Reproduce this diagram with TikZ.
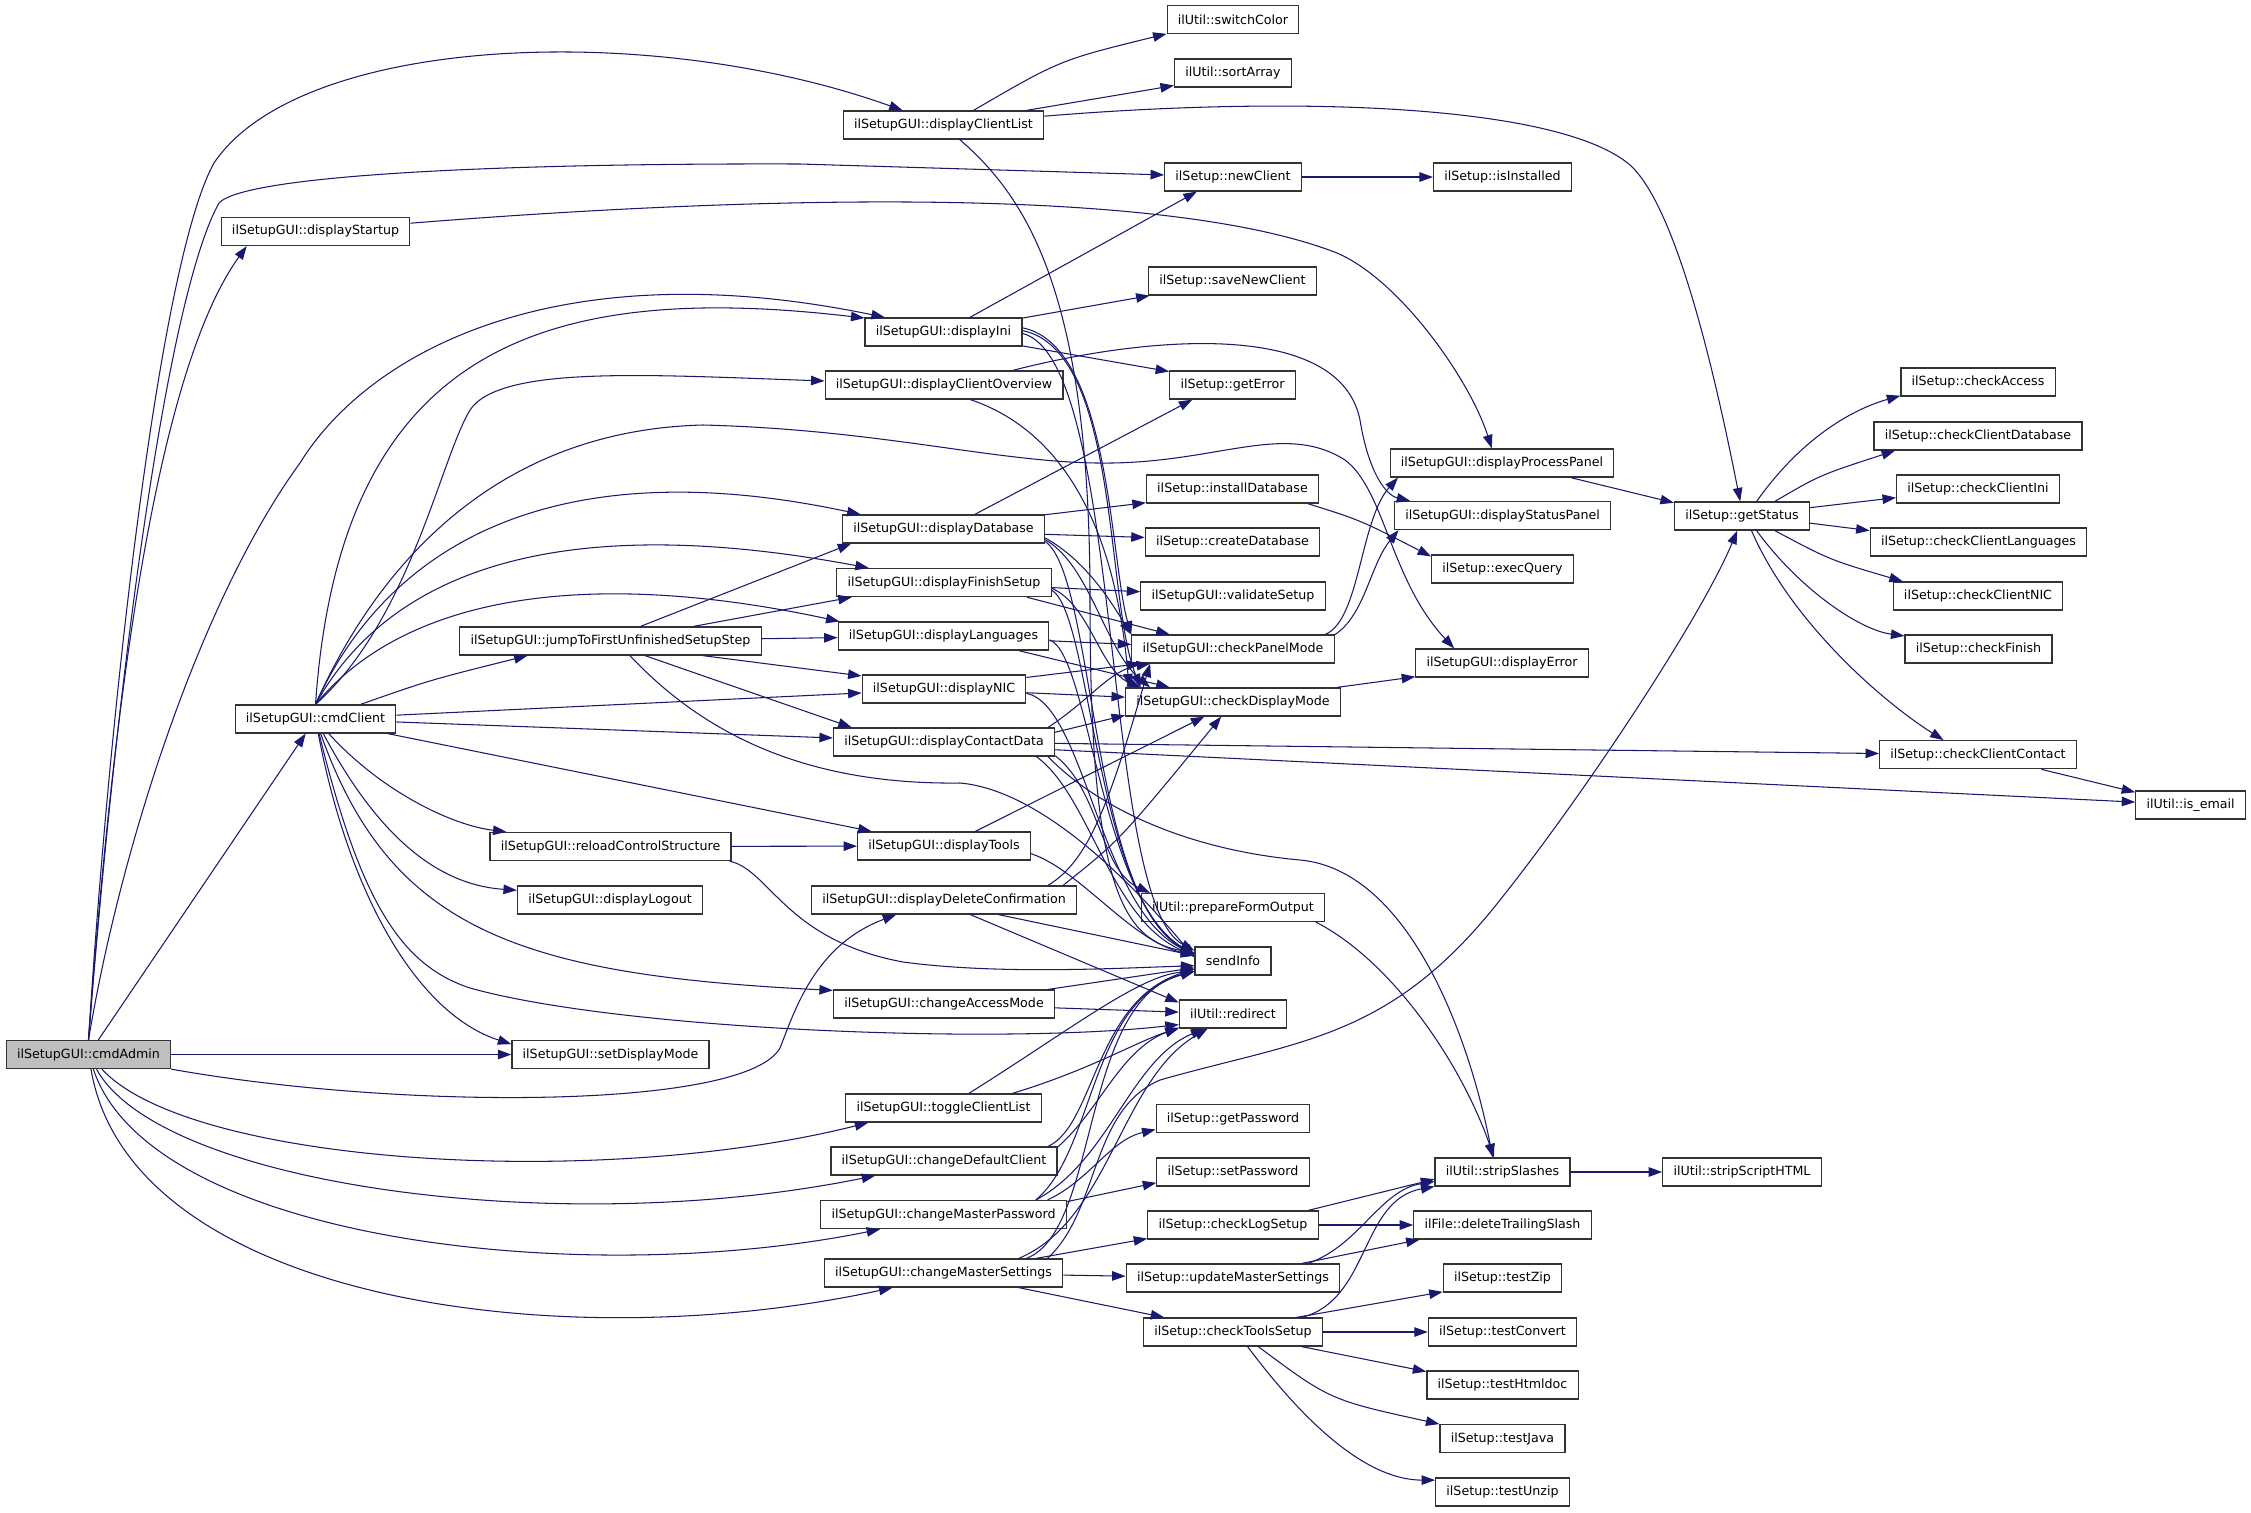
\documentclass[tikz,border=0pt]{standalone}
\usepackage{fontspec}
\setmainfont{DejaVu Sans}
\usetikzlibrary{arrows.meta}
\definecolor{edgeblue}{HTML}{191970}
\definecolor{rootgray}{HTML}{BFBFBF}
\definecolor{boxframe}{HTML}{333333}

\begin{document}
\begin{tikzpicture}[
    x=0.02cm, y=-0.02cm,
    every node/.style={font=\fontsize{7.2}{8.6}\selectfont},
    fn/.style={
        rectangle,
        draw=boxframe,
        fill=white,
        line width=0.7pt,
        minimum height=0.56cm,
        inner xsep=0.215cm,
        inner ysep=0pt
    },
    root/.style={fn, fill=rootgray},
    call/.style={-{Triangle[length=0.27cm,width=0.19cm]}, draw=edgeblue, line width=0.6pt}
]
    % canvas
    \fill[white] (0,0) rectangle (2251,1512);
    \useasboundingbox (0,0) rectangle (2251,1512);

    % === CALLERS ===
    \node[root] (cmdAdmin) at (88.5,1054.5) {ilSetupGUI::cmdAdmin};
    \node[fn] (dispStartup) at (315.5,231.5) {ilSetupGUI::displayStartup};
    \node[fn] (cmdClient) at (315.5,719) {ilSetupGUI::cmdClient};
    \node[fn] (jumpStep) at (610.5,641) {ilSetupGUI::jumpToFirstUnfinishedSetupStep};
    \node[fn] (reloadCS) at (610.5,846.5) {ilSetupGUI::reloadControlStructure};
    \node[fn] (dispLogout) at (610,900) {ilSetupGUI::displayLogout};
    \node[fn] (setDispMode) at (610.5,1054.5) {ilSetupGUI::setDisplayMode};

    % === GUI column ===
    \node[fn] (dispClientList) at (943.5,125) {ilSetupGUI::displayClientList};
    \node[fn] (dispIni) at (943.5,332) {ilSetupGUI::displayIni};
    \node[fn] (dispClientOv) at (944,385) {ilSetupGUI::displayClientOverview};
    \node[fn] (dispDatabase) at (943.5,529) {ilSetupGUI::displayDatabase};
    \node[fn] (dispFinish) at (944,582.6) {ilSetupGUI::displayFinishSetup};
    \node[fn] (dispLang) at (943.5,636) {ilSetupGUI::displayLanguages};
    \node[fn] (dispNIC) at (944,689) {ilSetupGUI::displayNIC};
    \node[fn] (dispContact) at (944,742) {ilSetupGUI::displayContactData};
    \node[fn] (dispTools) at (944,846) {ilSetupGUI::displayTools};
    \node[fn] (dispDelConf) at (944,900) {ilSetupGUI::displayDeleteConfirmation};
    \node[fn] (chgAccess) at (944,1004) {ilSetupGUI::changeAccessMode};
    \node[fn] (toggleCL) at (943.5,1108) {ilSetupGUI::toggleClientList};
    \node[fn] (chgDefault) at (944,1161) {ilSetupGUI::changeDefaultClient};
    \node[fn] (chgMPass) at (943.5,1214.6) {ilSetupGUI::changeMasterPassword};
    \node[fn] (chgMSet) at (943.5,1273) {ilSetupGUI::changeMasterSettings};

    % === middle column ===
    \node[fn] (switchColor) at (1233,19.7) {ilUtil::switchColor};
    \node[fn] (sortArray) at (1233,73) {ilUtil::sortArray};
    \node[fn] (newClient) at (1233,177) {ilSetup::newClient};
    \node[fn] (saveNewClient) at (1232.5,281) {ilSetup::saveNewClient};
    \node[fn] (getError) at (1232.5,385) {ilSetup::getError};
    \node[fn] (installDB) at (1232.5,489) {ilSetup::installDatabase};
    \node[fn] (createDB) at (1232.5,542) {ilSetup::createDatabase};
    \node[fn] (validateSetup) at (1233,596) {ilSetupGUI::validateSetup};
    \node[fn] (checkPanel) at (1233,649) {ilSetupGUI::checkPanelMode};
    \node[fn] (checkDisplay) at (1233,702) {ilSetupGUI::checkDisplayMode};
    \node[fn] (prepForm) at (1233,907.5) {ilUtil::prepareFormOutput};
    \node[fn] (sendInfo) at (1233,961) {sendInfo};
    \node[fn] (redirect) at (1233,1014) {ilUtil::redirect};
    \node[fn] (getPassword) at (1233,1118.6) {ilSetup::getPassword};
    \node[fn] (setPassword) at (1233,1172) {ilSetup::setPassword};
    \node[fn] (checkLog) at (1233,1225) {ilSetup::checkLogSetup};
    \node[fn] (updMaster) at (1233,1278) {ilSetup::updateMasterSettings};
    \node[fn] (checkTools) at (1233,1332) {ilSetup::checkToolsSetup};

    % === right columns ===
    \node[fn] (isInstalled) at (1502.5,177) {ilSetup::isInstalled};
    \node[fn] (dispProcess) at (1502,463) {ilSetupGUI::displayProcessPanel};
    \node[fn] (dispStatus) at (1502.5,515.5) {ilSetupGUI::displayStatusPanel};
    \node[fn] (execQuery) at (1502.5,569) {ilSetup::execQuery};
    \node[fn] (dispError) at (1502,663) {ilSetupGUI::displayError};
    \node[fn] (stripSlashes) at (1502.5,1172) {ilUtil::stripSlashes};
    \node[fn] (delTrailing) at (1502.5,1225) {ilFile::deleteTrailingSlash};
    \node[fn] (testZip) at (1502.5,1278) {ilSetup::testZip};
    \node[fn] (testConvert) at (1502.5,1332) {ilSetup::testConvert};
    \node[fn] (testHtmldoc) at (1502.5,1385) {ilSetup::testHtmldoc};
    \node[fn] (testJava) at (1502.5,1438.6) {ilSetup::testJava};
    \node[fn] (testUnzip) at (1502.5,1492) {ilSetup::testUnzip};
    \node[fn] (getStatus) at (1742,516) {ilSetup::getStatus};
    \node[fn] (stripScript) at (1742,1172) {ilUtil::stripScriptHTML};
    \node[fn] (checkAccess) at (1978,382) {ilSetup::checkAccess};
    \node[fn] (checkClientDB) at (1978,436) {ilSetup::checkClientDatabase};
    \node[fn] (checkClientIni) at (1978,489) {ilSetup::checkClientIni};
    \node[fn] (checkClientLang) at (1978.5,542) {ilSetup::checkClientLanguages};
    \node[fn] (checkClientNIC) at (1978,596) {ilSetup::checkClientNIC};
    \node[fn] (checkFinish) at (1978.5,649) {ilSetup::checkFinish};
    \node[fn] (checkClientContact) at (1978,754.7) {ilSetup::checkClientContact};
    \node[fn] (isEmail) at (2190.6,805) {ilUtil::is\_email};

    % === cmdAdmin calls ===
    \draw[call] (cmdAdmin.north) .. controls (110,700) and (160,260) .. (214,163) .. controls (300,35) and (650,20) .. (dispClientList);
    \draw[call] (cmdAdmin.north) .. controls (115,700) and (165,300) .. (219,203) .. controls (245,175) and (500,163) .. (800,164) -- (newClient);
    \draw[call] (cmdAdmin.north) .. controls (110,750) and (150,380) .. (dispStartup.-168);
    \draw[call] (cmdAdmin.north) .. controls (120,850) and (200,600) .. (300,463) .. controls (370,350) and (560,250) .. (dispIni.166);
    \draw[call] (cmdAdmin) -- (cmdClient);
    \draw[call] (cmdAdmin) -- (setDispMode);
    \draw[call] (cmdAdmin.south east) .. controls (400,1110) and (745,1110) .. (780,1048) .. controls (795,1010) and (815,945) .. (dispDelConf.-163);
    \draw[call] (cmdAdmin) .. controls (190,1165) and (600,1190) .. (toggleCL.-169);
    \draw[call] (cmdAdmin) .. controls (160,1185) and (560,1240) .. (chgDefault.-168);
    \draw[call] (cmdAdmin) .. controls (150,1240) and (580,1290) .. (chgMPass.-167);
    \draw[call] (cmdAdmin) .. controls (130,1300) and (560,1360) .. (chgMSet.-164);

    % === cmdClient calls ===
    \draw[call] (cmdClient.north) .. controls (340,350) and (540,280) .. (dispIni.170);
    \draw[call] (cmdClient.north) .. controls (410,620) and (440,460) .. (470,410) .. controls (500,365) and (650,375) .. (dispClientOv);
    \draw[call] (cmdClient.north) .. controls (380,560) and (500,430) .. (703,425) .. controls (900,430) and (1020,470) .. (1136,462) .. controls (1230,456) and (1290,425) .. (1345,460) .. controls (1385,490) and (1390,580) .. (dispError.163);
    \draw[call] (cmdClient.north) .. controls (390,540) and (560,450) .. (dispDatabase.170);
    \draw[call] (cmdClient.north) .. controls (390,570) and (560,510) .. (dispFinish.169);
    \draw[call] (cmdClient.north) .. controls (410,590) and (600,570) .. (dispLang.172);
    \draw[call] (cmdClient.18) .. controls (430,680) .. (jumpStep.-170);
    \draw[call] (cmdClient) -- (dispNIC);
    \draw[call] (cmdClient) -- (dispContact);
    \draw[call] (cmdClient) -- (dispTools);
    \draw[call] (cmdClient) .. controls (380,790) and (450,825) .. (reloadCS.172);
    \draw[call] (cmdClient) .. controls (380,840) and (440,885) .. (dispLogout.174);
    \draw[call] (cmdClient) .. controls (350,900) and (420,1015) .. (setDispMode.174);
    \draw[call] (cmdClient) .. controls (390,930) and (520,975) .. (chgAccess.173);
    \draw[call] (cmdClient) .. controls (360,900) and (400,965) .. (470,988) .. controls (620,1030) and (1000,1045) .. (redirect.-169);

    % === jumpToFirstUnfinishedSetupStep / reloadControlStructure ===
    \draw[call] (jumpStep.26) -- (dispDatabase.-171);
    \draw[call] (jumpStep.10) -- (dispFinish.-171);
    \draw[call] (jumpStep) -- (dispLang);
    \draw[call] (jumpStep.-9) -- (dispNIC.171);
    \draw[call] (jumpStep.-23) -- (dispContact.171);
    \draw[call] (jumpStep.-37) .. controls (700,730) and (800,785) .. (960,783) .. controls (1040,790) and (1130,880) .. (sendInfo.175);
    \draw[call] (reloadCS) -- (dispTools);
    \draw[call] (reloadCS.-7) .. controls (770,870) and (785,940) .. (903,962) .. controls (1000,975) and (1120,968) .. (sendInfo.-173);

    % === display* calls ===
    \draw[call] (dispStartup.5) .. controls (700,200) and (1150,180) .. (1337,253) .. controls (1400,280) and (1470,380) .. (dispProcess.125);
    \draw[call] (dispClientList.26) .. controls (1060,60) .. (switchColor.-168);
    \draw[call] (dispClientList.10) -- (sortArray.-168);
    \draw[call] (dispClientList.5) .. controls (1300,95) and (1560,105) .. (1630,165) .. controls (1680,210) and (1720,400) .. (getStatus.97);
    \draw[call] (dispClientList.-42) .. controls (1030,200) and (1090,300) .. (1090,600) .. controls (1090,880) and (1120,940) .. (sendInfo.168);

    \draw[call] (dispIni.29) -- (newClient.-158);
    \draw[call] (dispIni.10) -- (saveNewClient.-170);
    \draw[call] (dispIni.-10) -- (getError.168);
    \draw[call] (dispIni.3) .. controls (1110,345) and (1110,560) .. (checkPanel.172);
    \draw[call] (dispIni.1) .. controls (1120,350) and (1105,600) .. (checkDisplay.171);
    \draw[call] (dispIni.-1) .. controls (1125,360) and (1100,900) .. (sendInfo.165);

    \draw[call] (dispClientOv.12) .. controls (1150,335) and (1340,320) .. (1360,420) .. controls (1368,470) and (1385,495) .. (dispStatus.171);
    \draw[call] (dispClientOv.-29) .. controls (1090,440) and (1120,580) .. (checkDisplay.172);

    \draw[call] (dispDatabase.25) -- (getError.-160);
    \draw[call] (dispDatabase.8) -- (installDB.-171);
    \draw[call] (dispDatabase.-3) -- (createDB.177);
    \draw[call] (dispDatabase.-5) .. controls (1085,560) and (1110,600) .. (checkPanel.172);
    \draw[call] (dispDatabase.-6) .. controls (1090,565) and (1105,650) .. (checkDisplay.170);
    \draw[call] (dispDatabase.-7) .. controls (1095,575) and (1090,900) .. (sendInfo.170);

    \draw[call] (dispFinish) -- (validateSetup);
    \draw[call] (dispFinish.-10) -- (checkPanel.167);
    \draw[call] (dispFinish.-3) .. controls (1090,605) and (1100,670) .. (checkDisplay.171);
    \draw[call] (dispFinish.-4) .. controls (1092,615) and (1095,900) .. (sendInfo.170);

    \draw[call] (dispLang) -- (checkPanel);
    \draw[call] (dispLang.-11) -- (checkDisplay.167);
    \draw[call] (dispLang.-2) .. controls (1090,655) and (1100,900) .. (sendInfo.170);

    \draw[call] (dispNIC.8) -- (checkPanel.-171);
    \draw[call] (dispNIC) -- (checkDisplay);
    \draw[call] (dispNIC.-3) .. controls (1085,705) and (1100,910) .. (sendInfo.170);

    \draw[call] (dispContact.8) .. controls (1090,700) and (1110,670) .. (checkPanel.-170);
    \draw[call] (dispContact.5) -- (checkDisplay.-173);
    \draw[call] (dispContact) -- (checkClientContact);
    \draw[call] (dispContact.-4) -- (isEmail.177);
    \draw[call] (dispContact.-8) .. controls (1100,810) and (1190,850) .. (1300,860) .. controls (1410,870) and (1470,1040) .. (stripSlashes.124);
    \draw[call] (dispContact.-7) .. controls (1100,790) and (1100,870) .. (prepForm.170);
    \draw[call] (dispContact.-9) .. controls (1090,795) and (1110,920) .. (sendInfo.172);

    \draw[call] (dispTools.25) -- (checkDisplay.-153);
    \draw[call] (dispTools.-5) .. controls (1080,870) and (1130,940) .. (sendInfo.172);

    \draw[call] (dispDelConf.8) .. controls (1090,860) and (1110,800) .. (checkPanel.-170);
    \draw[call] (dispDelConf.7) .. controls (1120,840) .. (checkDisplay.-129);
    \draw[call] (dispDelConf.-15) -- (sendInfo.172);
    \draw[call] (dispDelConf.-29) -- (redirect.168);

    % === change* calls ===
    \draw[call] (chgAccess.8) -- (sendInfo.-170);
    \draw[call] (chgAccess) -- (redirect);
    \draw[call] (toggleCL.30) .. controls (1070,1030) and (1140,975) .. (sendInfo.-165);
    \draw[call] (toggleCL.12) .. controls (1090,1070) and (1140,1040) .. (redirect.-165);
    \draw[call] (chgDefault.8) .. controls (1095,1125) and (1095,1000) .. (sendInfo.-168);
    \draw[call] (chgDefault.7) .. controls (1100,1110) and (1120,1050) .. (redirect.-166);
    \draw[call] (chgMPass.8) .. controls (1090,1180) and (1110,1140) .. (getPassword.-172);
    \draw[call] (chgMPass.6) -- (setPassword.-172);
    \draw[call] (chgMPass.9) .. controls (1095,1150) and (1090,1000) .. (sendInfo.-165);
    \draw[call] (chgMPass.9) .. controls (1110,1160) and (1130,1060) .. (redirect.-153);
    \draw[call] (chgMSet.9) -- (checkLog.-171);
    \draw[call] (chgMSet) -- (updMaster);
    \draw[call] (chgMSet.-11) -- (checkTools.168);
    \draw[call] (chgMSet.10) .. controls (1100,1230) and (1080,1000) .. (sendInfo.-165);
    \draw[call] (chgMSet.11) .. controls (1110,1220) and (1120,1080) .. (redirect.-150);
    \draw[call] (chgMSet.8) .. controls (1100,1210) and (1090,1110) .. (1160,1080) .. controls (1300,1040) and (1390,1040) .. (1500,900) .. controls (1580,800) and (1700,620) .. (getStatus.-108);

    % === setup calls ===
    \draw[call] (newClient) -- (isInstalled);
    \draw[call] (installDB.-11) .. controls (1360,520) .. (execQuery.170);
    \draw[call] (checkPanel.9) .. controls (1360,620) and (1360,520) .. (dispProcess.-172);
    \draw[call] (checkPanel.8) .. controls (1365,615) and (1370,565) .. (dispStatus.-172);
    \draw[call] (checkDisplay.8) -- (dispError.-171);
    \draw[call] (dispProcess.-12) -- (getStatus.169);
    \draw[call] (prepForm.-10) .. controls (1390,960) and (1460,1060) .. (stripSlashes.120);
    \draw[call] (checkLog.11) -- (stripSlashes.-174);
    \draw[call] (checkLog) -- (delTrailing);
    \draw[call] (updMaster.11) .. controls (1360,1245) and (1380,1190) .. (stripSlashes.-172);
    \draw[call] (updMaster.12) -- (delTrailing.-170);
    \draw[call] (checkTools.12) .. controls (1370,1300) and (1360,1200) .. (stripSlashes.-168);
    \draw[call] (checkTools.13) -- (testZip.-167);
    \draw[call] (checkTools) -- (testConvert);
    \draw[call] (checkTools.-12) -- (testHtmldoc.170);
    \draw[call] (checkTools.-30) .. controls (1330,1400) .. (testJava.167);
    \draw[call] (checkTools.-45) .. controls (1310,1430) and (1370,1480) .. (testUnzip.170);
    \draw[call] (stripSlashes) -- (stripScript);

    % === getStatus checks ===
    \draw[call] (getStatus.45) .. controls (1800,440) and (1850,410) .. (checkAccess.-170);
    \draw[call] (getStatus.24) .. controls (1820,475) .. (checkClientDB.-170);
    \draw[call] (getStatus.7) -- (checkClientIni.-174);
    \draw[call] (getStatus.-6) -- (checkClientLang.174);
    \draw[call] (getStatus.-24) .. controls (1830,560) .. (checkClientNIC.169);
    \draw[call] (getStatus.-45) .. controls (1800,590) and (1860,630) .. (checkFinish.170);
    \draw[call] (getStatus.-57) .. controls (1790,620) and (1880,700) .. (checkClientContact.157);
    \draw[call] (checkClientContact.-13) -- (isEmail.167);
\end{tikzpicture}
\end{document}
